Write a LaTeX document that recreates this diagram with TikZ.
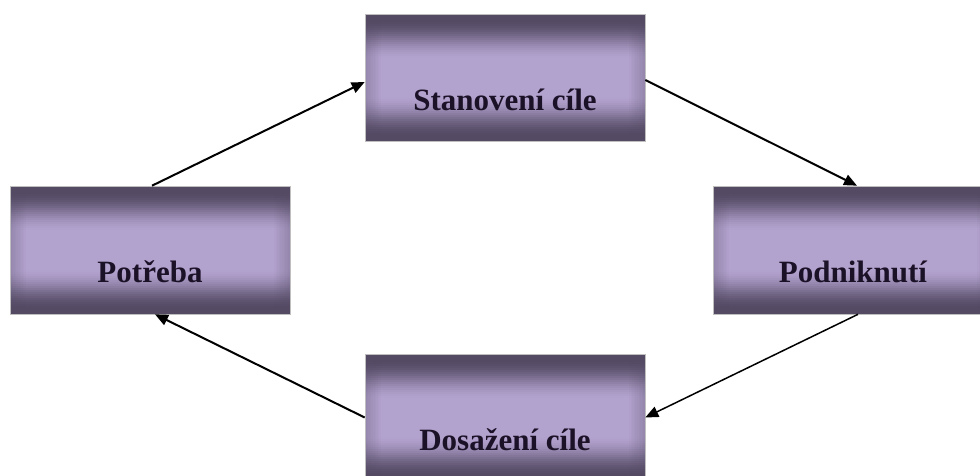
\documentclass[tikz,border=0pt]{standalone}
\usepackage{fontspec}
\setmainfont{Liberation Serif}
\usetikzlibrary{arrows.meta,calc}
\definecolor{bdark}{RGB}{84,74,100}
\definecolor{blight}{RGB}{178,162,206}
\definecolor{txtc}{RGB}{28,18,40}
\tikzset{
  stepbox/.style={rectangle, minimum width=280pt, minimum height=127pt, inner sep=0pt,
    draw=gray!50, line width=0.6pt,
    path picture={
      \foreach \k in {0,...,63}{
        \pgfmathsetmacro\ta{\k/64}
        \pgfmathsetmacro\tb{(\k+1.1)/64}
        \pgfmathsetmacro\tt{(\k+0.5)/64}
        \pgfmathsetmacro\pp{100*(\tt<0.04 ? 0 : (\tt<0.36 ? sin(90*(\tt-0.04)/0.32)^2 : (\tt<0.64 ? 1 : (\tt<0.97 ? sin(90*(0.97-\tt)/0.33)^2 : 0))))}
        \fill[blight!\pp!bdark] ($(path picture bounding box.north west)!\ta!(path picture bounding box.south west)$) rectangle ($(path picture bounding box.north east)!\tb!(path picture bounding box.south east)$);
      }
      \foreach \j in {0,...,9}{
        \pgfmathsetmacro\oo{0.30*(1-\j/10)}
        \fill[bdark, opacity=\oo] ([xshift=\j*1.6pt]path picture bounding box.south west) rectangle ([xshift=\j*1.6pt+1.6pt]path picture bounding box.north west);
        \fill[bdark, opacity=\oo] ([xshift=-\j*1.6pt]path picture bounding box.south east) rectangle ([xshift=-\j*1.6pt-1.6pt]path picture bounding box.north east);
      }
    }},
  lbl/.style={anchor=base, text=txtc, font=\fontsize{31}{36}\selectfont\bfseries, inner sep=0pt},
  arr/.style={-{Triangle[length=13pt,width=11pt]}, line width=2pt, black},
}
\begin{document}
\begin{tikzpicture}[x=1pt,y=-1pt]
\useasboundingbox (0,0) rectangle (980,476);
\fill[white] (0,0) rectangle (980,476);
\clip (0,0) rectangle (980,476);
\node[stepbox] (stan) at (505,77.5) {};
\node[stepbox, minimum height=128pt] (potr) at (150,250) {};
\node[stepbox, minimum height=128pt] (podn) at (853,250) {};
\node[stepbox] (dosa) at (505,417.5) {};
\node[lbl] (tstan) at ([yshift=31pt]stan.south) {Stanovení cíle};
\node[lbl] (tpotr) at ([yshift=32pt]potr.south) {Potřeba};
\node[lbl] (tpodn) at ([yshift=32pt]podn.south) {Podniknutí};
\node[lbl] (tdosa) at ([yshift=31pt]dosa.south) {Dosažení cíle};
\draw[arr] ([xshift=2pt]potr.north) -- ([yshift=-4.5pt]stan.west);
\draw[arr] ([yshift=-2.5pt]stan.east) -- ([xshift=4pt]podn.north);
\draw[arr, line width=1.5pt] ([xshift=5pt]podn.south) -- (dosa.east);
\draw[arr] (dosa.west) -- ([xshift=5pt]potr.south);
\end{tikzpicture}
\end{document}
